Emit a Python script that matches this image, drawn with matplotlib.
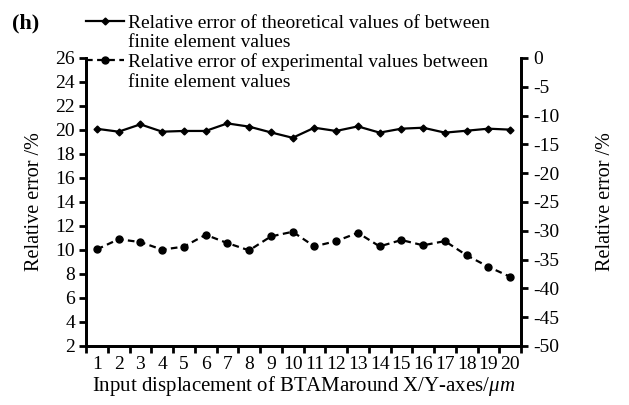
import matplotlib
matplotlib.use("Agg")
import matplotlib.pyplot as plt
from matplotlib.lines import Line2D
import numpy as np

plt.rcParams['font.family'] = ['Liberation Serif', 'DejaVu Serif']
plt.rcParams['mathtext.fontset'] = 'custom'
plt.rcParams['mathtext.it'] = 'Liberation Serif:italic'
plt.rcParams['mathtext.rm'] = 'Liberation Serif'
plt.rcParams['axes.unicode_minus'] = False

categories = [str(i) for i in range(1, 21)]
theoretical = [20.1, 19.86, 20.47, 19.86, 19.92, 19.92, 20.55, 20.28, 19.8, 19.35,
               20.19, 19.92, 20.3, 19.78, 20.11, 20.19, 19.78, 19.94, 20.11, 20.03]
experimental = [-33.23, -31.46, -31.96, -33.27, -32.75, -30.69, -32.13, -33.40, -30.98, -30.17,
                -32.71, -31.79, -30.35, -32.71, -31.60, -32.52, -31.79, -34.25, -36.25, -37.98]
left_ticks = list(range(2, 27, 2))
right_ticks = list(range(-50, 1, 5))

label_theo = ["Relative error of theoretical values of between", "finite element values"]
label_exp = ["Relative error of experimental values between", "finite element values"]

W, H = 629, 405
fig = plt.figure(figsize=(W/100, H/100), dpi=100)
L, R, T, B = 86, 521, 58, 346
ax = fig.add_axes([L/W, (H-B)/H, (R-L)/W, (B-T)/H])
ax2 = ax.twinx()

x = np.arange(len(categories))
l1, = ax.plot(x, theoretical, '-', color='black', lw=1.6, marker='D', ms=3.5)
l2, = ax2.plot(x, experimental, '--', color='black', lw=1.6, marker='o', ms=5,
               dashes=(3, 2))

ax.set_xlim(-0.5, len(categories) - 0.5)
ax.set_ylim(2, 26)
ax2.set_ylim(-50, 0)
ax.set_yticks(left_ticks)
ax2.set_yticks(right_ticks)
ax.set_xticks(x)
ax.set_xticklabels(categories)
ax.set_xticks(np.arange(-0.5, len(categories), 1.0), minor=True)
ax.tick_params(axis='x', which='major', length=0, pad=7, labelsize=14)
ax.tick_params(axis='x', which='minor', length=5, width=2, direction='out')
ax.tick_params(axis='y', length=5, width=2, direction='out', labelsize=14, pad=3)
ax2.tick_params(axis='y', length=5, width=2, direction='out', labelsize=14, pad=4)

for a in (ax, ax2):
    a.spines['top'].set_visible(False)
    for s in ('left', 'right', 'bottom'):
        a.spines[s].set_linewidth(2)
ax.set_ylabel('Relative error /%', fontsize=14.5, labelpad=8)
ax2.set_ylabel('Relative error /%', fontsize=14.5, labelpad=26)
ax.set_xlabel(r'Input displacement of BTAMaround X/Y-axes/$\mathit{\mu m}$', fontsize=15, labelpad=1)

blank = Line2D([], [], linestyle='none')
handles = [l1, blank, l2, blank]
labels = [label_theo[0], label_theo[1], label_exp[0], label_exp[1]]
leg = fig.legend(handles=handles, labels=labels, loc='upper left',
                 bbox_to_anchor=(86/W, 1 - 14/H),
                 frameon=False, fontsize=14, handlelength=1.95, handletextpad=0.2,
                 labelspacing=0.1, borderpad=0, borderaxespad=0)

fig.text(12/W, 1 - 23/H, '(h)', fontsize=16, fontweight='bold', va='center')

fig.savefig('out.png', dpi=100)
